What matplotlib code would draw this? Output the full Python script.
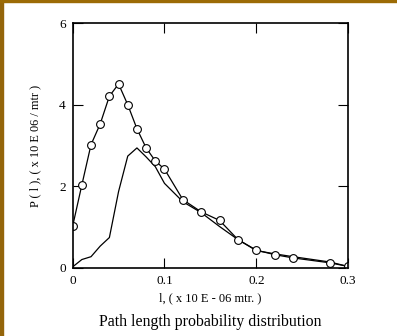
import numpy as np
import matplotlib.pyplot as plt
from matplotlib.patches import Rectangle

# circles series
x_pts = [0.0, 0.01, 0.02, 0.03, 0.04, 0.05, 0.06, 0.07, 0.08, 0.09, 0.10,
         0.12, 0.14, 0.16, 0.18, 0.20, 0.22, 0.24, 0.28, 0.30]
y_pts = [1.02, 2.03, 3.02, 3.53, 4.21, 4.51, 4.0, 3.41, 2.94, 2.62, 2.42,
         1.67, 1.37, 1.16, 0.69, 0.43, 0.32, 0.24, 0.12, 0.03]

# solid line series
x_line = [0.0, 0.01, 0.02, 0.03, 0.04, 0.05, 0.06, 0.07, 0.08, 0.09, 0.10,
          0.12, 0.14, 0.16, 0.18, 0.20, 0.22, 0.24, 0.28, 0.30]
y_line = [0.02, 0.2, 0.27, 0.53, 0.74, 1.87, 2.74, 2.94, 2.72, 2.48, 2.07,
          1.62, 1.35, 1.01, 0.69, 0.42, 0.34, 0.27, 0.14, 0.03]

xticks = [0, 0.1, 0.2, 0.3]
xticklabels = ['0', '0.1', '0.2', '0.3']
yticks = [0, 2, 4, 6]

plt.rcParams['font.family'] = ['Liberation Serif', 'DejaVu Serif']

fig = plt.figure(figsize=(3.97, 3.36), dpi=100)
fig.patches.append(Rectangle((0, 0), 3 / 397, 1, transform=fig.transFigure,
                             color='#94650a', zorder=0))
fig.patches.append(Rectangle((0, 1 - 2 / 336), 1, 2 / 336, transform=fig.transFigure,
                             color='#9c6b05', zorder=0))

ax = fig.add_axes([0.183, 0.2033, 0.694, 0.7274])
ax.plot(x_line, y_line, '-', color='black', lw=0.9)
ax.plot(x_pts, y_pts, '-', color='black', lw=0.9, marker='o', ms=5.6,
        mfc='white', mec='black', mew=0.8, clip_on=True)

ax.set_xlim(0, 0.3)
ax.set_ylim(0, 6)
ax.set_xticks(xticks)
ax.set_xticklabels(xticklabels)
ax.set_yticks(yticks)
ax.tick_params(direction='in', length=7, width=0.8, top=True, right=True,
               labelsize=9.5)
ax.tick_params(axis='x', pad=5)
ax.tick_params(axis='y', pad=5)
for s in ax.spines.values():
    s.set_linewidth(1.2)

ax.set_xlabel('l, ( x 10 E - 06 mtr. )', fontsize=9, labelpad=4)
ax.set_ylabel('P ( l ), ( x 10 E 06 / mtr )', fontsize=8.8, labelpad=13)
fig.text(0.5 * (72.7 + 348.3) / 397, 1 - 322 / 336, 'Path length probability distribution',
         ha='center', va='center', fontsize=11.4)

fig.savefig('out.png', dpi=100)
